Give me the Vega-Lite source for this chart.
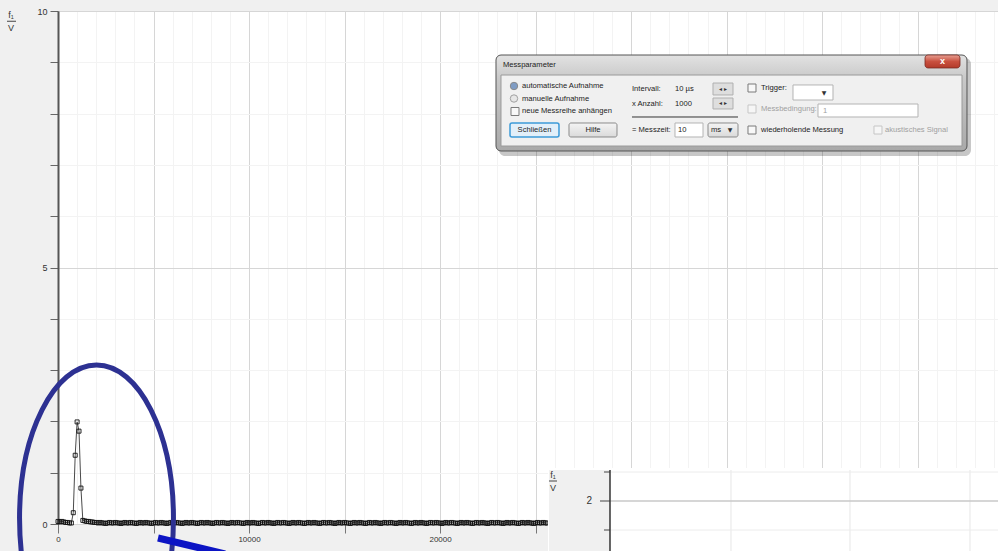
{
"$schema":"https://vega.github.io/schema/vega-lite/v6.json",
"width":940,"height":513,
"autosize":{"type":"none"},
"padding":{"left":58,"top":11,"right":0,"bottom":27},
"background":"#f0f0f0",
"config":{"view":{"fill":"white","stroke":"#c4c4c4","strokeWidth":1},"font":"Liberation Sans"},
"datasets":{"spectrum":[
{"f":0,"u":0.05},{"f":100,"u":0.04},{"f":200,"u":0.05},{"f":300,"u":0.04},{"f":400,"u":0.03},{"f":500,"u":0.03},{"f":600,"u":0.02},{"f":700,"u":0.02},
{"f":800,"u":0.22},{"f":900,"u":1.34},{"f":1000,"u":1.99},{"f":1100,"u":1.81},{"f":1200,"u":0.70},{"f":1300,"u":0.07},{"f":1400,"u":0.06},{"f":1500,"u":0.05},
{"f":1600,"u":0.05},{"f":1700,"u":0.04},{"f":1800,"u":0.04},{"f":1900,"u":0.03},{"f":2000,"u":0.03},
{"f":2100,"u":0.02},{"f":2200,"u":0.03},{"f":2300,"u":0.02},{"f":2400,"u":0.02},{"f":2500,"u":0.01},{"f":2600,"u":0.02},{"f":2700,"u":0.03},{"f":2800,"u":0.02},
{"f":2900,"u":0.02},{"f":3000,"u":0.03},{"f":3100,"u":0.02},{"f":3200,"u":0.02},{"f":3300,"u":0.01},{"f":3400,"u":0.02},{"f":3500,"u":0.03},{"f":3600,"u":0.02},
{"f":3700,"u":0.02},{"f":3800,"u":0.03},{"f":3900,"u":0.02},{"f":4000,"u":0.02},{"f":4100,"u":0.01},{"f":4200,"u":0.02},{"f":4300,"u":0.03},{"f":4400,"u":0.02},
{"f":4500,"u":0.02},{"f":4600,"u":0.03},{"f":4700,"u":0.02},{"f":4800,"u":0.02},{"f":4900,"u":0.01},{"f":5000,"u":0.02},{"f":5100,"u":0.03},{"f":5200,"u":0.02},
{"f":5300,"u":0.02},{"f":5400,"u":0.03},{"f":5500,"u":0.02},{"f":5600,"u":0.02},{"f":5700,"u":0.01},{"f":5800,"u":0.02},{"f":5900,"u":0.03},{"f":6000,"u":0.02},
{"f":6100,"u":0.02},{"f":6200,"u":0.03},{"f":6300,"u":0.02},{"f":6400,"u":0.02},{"f":6500,"u":0.01},{"f":6600,"u":0.02},{"f":6700,"u":0.03},{"f":6800,"u":0.02},
{"f":6900,"u":0.02},{"f":7000,"u":0.03},{"f":7100,"u":0.02},{"f":7200,"u":0.02},{"f":7300,"u":0.01},{"f":7400,"u":0.02},{"f":7500,"u":0.03},{"f":7600,"u":0.02},
{"f":7700,"u":0.02},{"f":7800,"u":0.03},{"f":7900,"u":0.02},{"f":8000,"u":0.02},{"f":8100,"u":0.01},{"f":8200,"u":0.02},{"f":8300,"u":0.03},{"f":8400,"u":0.02},
{"f":8500,"u":0.02},{"f":8600,"u":0.03},{"f":8700,"u":0.02},{"f":8800,"u":0.02},{"f":8900,"u":0.01},{"f":9000,"u":0.02},{"f":9100,"u":0.03},{"f":9200,"u":0.02},
{"f":9300,"u":0.02},{"f":9400,"u":0.03},{"f":9500,"u":0.02},{"f":9600,"u":0.02},{"f":9700,"u":0.01},{"f":9800,"u":0.02},{"f":9900,"u":0.03},{"f":10000,"u":0.02},
{"f":10100,"u":0.02},{"f":10200,"u":0.03},{"f":10300,"u":0.02},{"f":10400,"u":0.02},{"f":10500,"u":0.01},{"f":10600,"u":0.02},{"f":10700,"u":0.03},{"f":10800,"u":0.02},
{"f":10900,"u":0.02},{"f":11000,"u":0.03},{"f":11100,"u":0.02},{"f":11200,"u":0.02},{"f":11300,"u":0.01},{"f":11400,"u":0.02},{"f":11500,"u":0.03},{"f":11600,"u":0.02},
{"f":11700,"u":0.02},{"f":11800,"u":0.03},{"f":11900,"u":0.02},{"f":12000,"u":0.02},{"f":12100,"u":0.01},{"f":12200,"u":0.02},{"f":12300,"u":0.03},{"f":12400,"u":0.02},
{"f":12500,"u":0.02},{"f":12600,"u":0.03},{"f":12700,"u":0.02},{"f":12800,"u":0.02},{"f":12900,"u":0.01},{"f":13000,"u":0.02},{"f":13100,"u":0.03},{"f":13200,"u":0.02},
{"f":13300,"u":0.02},{"f":13400,"u":0.03},{"f":13500,"u":0.02},{"f":13600,"u":0.02},{"f":13700,"u":0.01},{"f":13800,"u":0.02},{"f":13900,"u":0.03},{"f":14000,"u":0.02},
{"f":14100,"u":0.02},{"f":14200,"u":0.03},{"f":14300,"u":0.02},{"f":14400,"u":0.02},{"f":14500,"u":0.01},{"f":14600,"u":0.02},{"f":14700,"u":0.03},{"f":14800,"u":0.02},
{"f":14900,"u":0.02},{"f":15000,"u":0.03},{"f":15100,"u":0.02},{"f":15200,"u":0.02},{"f":15300,"u":0.01},{"f":15400,"u":0.02},{"f":15500,"u":0.03},{"f":15600,"u":0.02},
{"f":15700,"u":0.02},{"f":15800,"u":0.03},{"f":15900,"u":0.02},{"f":16000,"u":0.02},{"f":16100,"u":0.01},{"f":16200,"u":0.02},{"f":16300,"u":0.03},{"f":16400,"u":0.02},
{"f":16500,"u":0.02},{"f":16600,"u":0.03},{"f":16700,"u":0.02},{"f":16800,"u":0.02},{"f":16900,"u":0.01},{"f":17000,"u":0.02},{"f":17100,"u":0.03},{"f":17200,"u":0.02},
{"f":17300,"u":0.02},{"f":17400,"u":0.03},{"f":17500,"u":0.02},{"f":17600,"u":0.02},{"f":17700,"u":0.01},{"f":17800,"u":0.02},{"f":17900,"u":0.03},{"f":18000,"u":0.02},
{"f":18100,"u":0.02},{"f":18200,"u":0.03},{"f":18300,"u":0.02},{"f":18400,"u":0.02},{"f":18500,"u":0.01},{"f":18600,"u":0.02},{"f":18700,"u":0.03},{"f":18800,"u":0.02},
{"f":18900,"u":0.02},{"f":19000,"u":0.03},{"f":19100,"u":0.02},{"f":19200,"u":0.02},{"f":19300,"u":0.01},{"f":19400,"u":0.02},{"f":19500,"u":0.03},{"f":19600,"u":0.02},
{"f":19700,"u":0.02},{"f":19800,"u":0.03},{"f":19900,"u":0.02},{"f":20000,"u":0.02},{"f":20100,"u":0.01},{"f":20200,"u":0.02},{"f":20300,"u":0.03},{"f":20400,"u":0.02},
{"f":20500,"u":0.02},{"f":20600,"u":0.03},{"f":20700,"u":0.02},{"f":20800,"u":0.02},{"f":20900,"u":0.01},{"f":21000,"u":0.02},{"f":21100,"u":0.03},{"f":21200,"u":0.02},
{"f":21300,"u":0.02},{"f":21400,"u":0.03},{"f":21500,"u":0.02},{"f":21600,"u":0.02},{"f":21700,"u":0.01},{"f":21800,"u":0.02},{"f":21900,"u":0.03},{"f":22000,"u":0.02},
{"f":22100,"u":0.02},{"f":22200,"u":0.03},{"f":22300,"u":0.02},{"f":22400,"u":0.02},{"f":22500,"u":0.01},{"f":22600,"u":0.02},{"f":22700,"u":0.03},{"f":22800,"u":0.02},
{"f":22900,"u":0.02},{"f":23000,"u":0.03},{"f":23100,"u":0.02},{"f":23200,"u":0.02},{"f":23300,"u":0.01},{"f":23400,"u":0.02},{"f":23500,"u":0.03},{"f":23600,"u":0.02},
{"f":23700,"u":0.02},{"f":23800,"u":0.03},{"f":23900,"u":0.02},{"f":24000,"u":0.02},{"f":24100,"u":0.01},{"f":24200,"u":0.02},{"f":24300,"u":0.03},{"f":24400,"u":0.02},
{"f":24500,"u":0.02},{"f":24600,"u":0.03},{"f":24700,"u":0.02},{"f":24800,"u":0.02},{"f":24900,"u":0.01},{"f":25000,"u":0.02},{"f":25100,"u":0.03},{"f":25200,"u":0.02},
{"f":25300,"u":0.02},{"f":25400,"u":0.03},{"f":25500,"u":0.02},{"f":25600,"u":0.02}
]},
"encoding":{
  "x":{"field":"f","type":"quantitative","scale":{"domain":[0,49202],"nice":false,"zero":false},
   "axis":{"title":null,"values":[0,1000,2000,3000,4000,5000,6000,7000,8000,9000,10000,11000,12000,13000,14000,15000,16000,17000,18000,19000,20000,21000,22000,23000,24000,25000,26000,27000,28000,29000,30000,31000,32000,33000,34000,35000,36000,37000,38000,39000,40000,41000,42000,43000,44000,45000,46000,47000,48000,49000],
    "format":"d","labelExpr":"datum.value % 10000 === 0 ? datum.label : ''","labelOverlap":false,"labelFlush":false,
    "grid":true,"gridColor":{"condition":{"test":"datum.value % 5000 === 0","value":"#d6d6d6"},"value":"#f3f3f3"},
    "tickSize":9,"tickColor":{"condition":{"test":"datum.value % 5000 === 0","value":"#777777"},"value":"transparent"},
    "domain":false,"labelFont":"Liberation Sans","labelFontSize":8,"labelColor":"#333333","labelPadding":2}},
  "y":{"field":"u","type":"quantitative","scale":{"domain":[0,10],"nice":false,"zero":false},
   "axis":{"title":null,"values":[0,1,2,3,4,5,6,7,8,9,10],"labelExpr":"datum.value % 5 === 0 ? datum.label : ''","labelOverlap":false,"labelFlush":false,
    "grid":true,"gridColor":{"condition":{"test":"datum.value % 5 === 0","value":"#d6d6d6"},"value":"#f3f3f3"},
    "tickSize":8,"tickColor":"#666666","domainColor":"#555555","domainWidth":2,
    "labelFont":"Liberation Sans","labelFontSize":9,"labelColor":"#333333","labelPadding":3}}},
"layer":[
{"data":{"name":"spectrum"},
 "mark":{"type":"line","color":"#4a4a4a","strokeWidth":1}},
{"data":{"name":"spectrum"},
 "mark":{"type":"point","shape":"square","size":16,"filled":false,"stroke":"#111111","strokeWidth":0.9,"opacity":1}},
{"data":{"values":[{"t":"f₁","f":-2460,"u":9.92},{"t":"V","f":-2460,"u":9.66}]},
 "mark":{"type":"text","fontSize":9,"color":"#333333","align":"center","baseline":"middle"},
 "encoding":{"text":{"field":"t"}}},
{"data":{"values":[{"f":-2669,"f2":-2198,"u":9.8}]},
 "mark":{"type":"rule","color":"#444444","strokeWidth":1},
 "encoding":{"x2":{"field":"f2"}}},
{"data":{"values":[{"f":25648,"f2":49400,"u":1.092,"u2":-0.8}]},
 "mark":{"type":"rect","fill":"white"},
 "encoding":{"x2":{"field":"f2"},"y2":{"field":"u2"}}},
{"data":{"values":[{"f":25700,"f2":28893,"u":1.053,"u2":-0.8}]},
 "mark":{"type":"rect","fill":"#f0f0f0"},
 "encoding":{"x2":{"field":"f2"},"y2":{"field":"u2"}}},
{"data":{"values":[{"f":35226,"u":1.053,"u2":-0.8},{"f":41455,"u":1.053,"u2":-0.8},{"f":47736,"u":1.053,"u2":-0.8}]},
 "mark":{"type":"rule","color":"#e6e6e6","strokeWidth":1},
 "encoding":{"y2":{"field":"u2"}}},
{"data":{"values":[{"f":28893,"f2":49400,"u":1.0136},{"f":28893,"f2":49400,"u":-0.117}]},
 "mark":{"type":"rule","color":"#ececec","strokeWidth":1},
 "encoding":{"x2":{"field":"f2"}}},
{"data":{"values":[{"f":28893,"f2":49400,"u":0.4483}]},
 "mark":{"type":"rule","color":"#c8c8c8","strokeWidth":1.5},
 "encoding":{"x2":{"field":"f2"}}},
{"data":{"values":[{"f":28579,"f2":28893,"u":1.0136},{"f":28370,"f2":28893,"u":0.4483},{"f":28579,"f2":28893,"u":-0.117},{"f":25700,"f2":26119,"u":0.838}]},
 "mark":{"type":"rule","color":"#444444","strokeWidth":1},
 "encoding":{"x2":{"field":"f2"}}},
{"data":{"values":[{"f":28893,"u":1.053,"u2":-0.8}]},
 "mark":{"type":"rule","color":"#333333","strokeWidth":1.5},
 "encoding":{"y2":{"field":"u2"}}},
{"data":{"values":[{"t":"2","f":27951,"u":0.448}]},
 "mark":{"type":"text","fontSize":10,"color":"#333333","align":"right","baseline":"middle"},
 "encoding":{"text":{"field":"t"}}},
{"data":{"values":[{"t":"f₁","f":25910,"u":0.955},{"t":"V","f":25910,"u":0.70}]},
 "mark":{"type":"text","fontSize":9,"color":"#333333","align":"center","baseline":"middle"},
 "encoding":{"text":{"field":"t"}}},
{"data":{"values":[{"f":2015,"u":0.117}]},
 "mark":{"type":"point","shape":"M-0.503,0A0.503,1,0,1,0,0.503,0A0.503,1,0,1,0,-0.503,0Z","size":93636,"filled":false,"stroke":"#2d3192","strokeWidth":5,"opacity":1}},
{"data":{"values":[{"f":5234,"u":-0.273},{"f":8741,"u":-0.585}]},
 "mark":{"type":"line","color":"#0c14c4","strokeWidth":7,"strokeCap":"butt"}},
{"data":{"values":[{"f":23083,"f2":47788,"u":9.084,"u2":7.173}]},
 "mark":{"type":"rect","fill":"#000000","opacity":0.22,"cornerRadius":6},
 "encoding":{"x2":{"field":"f2"},"y2":{"field":"u2"}}},
{"data":{"values":[{"f":22926,"f2":47579,"u":9.142,"u2":7.271}]},
 "mark":{"type":"rect","cornerRadius":5,"stroke":"#555555","strokeWidth":1,
  "fill":{"gradient":"linear","x1":0,"y1":0,"x2":0,"y2":1,"stops":[{"offset":0,"color":"#e2e2e2"},{"offset":0.25,"color":"#c8c8c8"},{"offset":1,"color":"#a9a9a9"}]}},
 "encoding":{"x2":{"field":"f2"},"y2":{"field":"u2"}}},
{"data":{"values":[{"f":23187,"f2":47318,"u":8.752,"u2":7.368}]},
 "mark":{"type":"rect","fill":"#f0f0f0","stroke":"#9a9a9a","strokeWidth":1},
 "encoding":{"x2":{"field":"f2"},"y2":{"field":"u2"}}},
{"data":{"values":[{"f":45381,"f2":47213,"u":9.142,"u2":8.889}]},
 "mark":{"type":"rect","cornerRadius":3,"stroke":"#7a2a22","strokeWidth":0.8,
  "fill":{"gradient":"linear","x1":0,"y1":0,"x2":0,"y2":1,"stops":[{"offset":0,"color":"#e8a093"},{"offset":0.5,"color":"#c9503f"},{"offset":1,"color":"#b23a2a"}]}},
 "encoding":{"x2":{"field":"f2"},"y2":{"field":"u2"}}},
{"data":{"values":[{"t":"x","f":46297,"u":9.02}]},
 "mark":{"type":"text","fontSize":9,"fontWeight":"bold","color":"white","align":"center","baseline":"middle"},
 "encoding":{"text":{"field":"t"}}},
{"data":{"values":[{"f":23659,"f2":26223,"u":7.817,"u2":7.544}]},
 "mark":{"type":"rect","cornerRadius":2,"fill":"#e2eff9","stroke":"#3c9ad8","strokeWidth":1.5},
 "encoding":{"x2":{"field":"f2"},"y2":{"field":"u2"}}},
{"data":{"values":[{"f":26747,"f2":29259,"u":7.817,"u2":7.544},{"f":34023,"f2":35593,"u":7.817,"u2":7.544}]},
 "mark":{"type":"rect","cornerRadius":2,"stroke":"#8a8a8a","strokeWidth":1,
  "fill":{"gradient":"linear","x1":0,"y1":0,"x2":0,"y2":1,"stops":[{"offset":0,"color":"#f4f4f4"},{"offset":1,"color":"#dadada"}]}},
 "encoding":{"x2":{"field":"f2"},"y2":{"field":"u2"}}},
{"data":{"values":[{"f":34284,"f2":35331,"u":8.596,"u2":8.363},{"f":34284,"f2":35331,"u":8.304,"u2":8.09}]},
 "mark":{"type":"rect","fill":"#dedede","stroke":"#b0b0b0","strokeWidth":1},
 "encoding":{"x2":{"field":"f2"},"y2":{"field":"u2"}}},
{"data":{"values":[{"f":32295,"f2":33761,"u":7.817,"u2":7.544},{"f":38471,"f2":40565,"u":8.558,"u2":8.265},{"f":39780,"f2":45014,"u":8.187,"u2":7.934}]},
 "mark":{"type":"rect","fill":"white","stroke":"#b4b4b4","strokeWidth":1},
 "encoding":{"x2":{"field":"f2"},"y2":{"field":"u2"}}},
{"data":{"values":[{"f":30044,"f2":35593,"u":7.934}]},
 "mark":{"type":"rule","color":"#333333","strokeWidth":1},
 "encoding":{"x2":{"field":"f2"}}},
{"data":{"values":[{"f":23920,"u":8.041},{"f":36325,"u":8.499},{"f":36325,"u":7.68}]},
 "mark":{"type":"point","shape":"square","size":64,"filled":true,"fill":"#f8f8f8","stroke":"#7a7a7a","strokeWidth":1,"opacity":1}},
{"data":{"values":[{"f":36325,"u":8.09},{"f":42920,"u":7.68}]},
 "mark":{"type":"point","shape":"square","size":64,"filled":true,"fill":"#f6f6f6","stroke":"#c6c6c6","strokeWidth":1,"opacity":1}},
{"data":{"values":[{"f":23868,"u":8.538}]},
 "mark":{"type":"point","shape":"circle","size":55,"filled":true,"fill":"#7f9cc4","stroke":"#8a8a8a","strokeWidth":1,"opacity":1}},
{"data":{"values":[{"f":23868,"u":8.294}]},
 "mark":{"type":"point","shape":"circle","size":55,"filled":true,"fill":"#e6e6e6","stroke":"#a0a0a0","strokeWidth":1,"opacity":1}},
{"data":{"values":[
  {"t":"Messparameter","f":23292,"u":8.947},
  {"t":"automatische Aufnahme","f":24287,"u":8.538},
  {"t":"manuelle Aufnahme","f":24287,"u":8.294},
  {"t":"neue Messreihe anhängen","f":24287,"u":8.041},
  {"t":"Intervall:","f":30044,"u":8.48},
  {"t":"10 µs","f":32295,"u":8.48},
  {"t":"x Anzahl:","f":30044,"u":8.187},
  {"t":"1000","f":32295,"u":8.187},
  {"t":"= Messzeit:","f":30044,"u":7.68},
  {"t":"10","f":32450,"u":7.68},
  {"t":"ms","f":34180,"u":7.68},
  {"t":"Trigger:","f":36796,"u":8.499},
  {"t":"wiederholende Messung","f":36796,"u":7.68}]},
 "mark":{"type":"text","font":"Liberation Sans","fontSize":7.6,"color":"#222222","align":"left","baseline":"middle"},
 "encoding":{"text":{"field":"t"}}},
{"data":{"values":[
  {"t":"Messbedingung:","f":36796,"u":8.09},
  {"t":"1","f":40042,"u":8.06},
  {"t":"akustisches Signal","f":43287,"u":7.68}]},
 "mark":{"type":"text","font":"Liberation Sans","fontSize":7.6,"color":"#a0a0a0","align":"left","baseline":"middle"},
 "encoding":{"text":{"field":"t"}}},
{"data":{"values":[
  {"t":"Schließen","f":24941,"u":7.68},
  {"t":"Hilfe","f":28003,"u":7.68}]},
 "mark":{"type":"text","font":"Liberation Sans","fontSize":7.6,"color":"#222222","align":"center","baseline":"middle"},
 "encoding":{"text":{"field":"t"}}},
{"data":{"values":[
  {"t":"▼","f":35174,"u":7.68},
  {"t":"▼","f":40094,"u":8.41},
  {"t":"◂ ▸","f":34807,"u":8.48},
  {"t":"◂ ▸","f":34807,"u":8.197}]},
 "mark":{"type":"text","font":"DejaVu Sans","fontSize":6,"color":"#333333","align":"center","baseline":"middle"},
 "encoding":{"text":{"field":"t"}}}
]
}
